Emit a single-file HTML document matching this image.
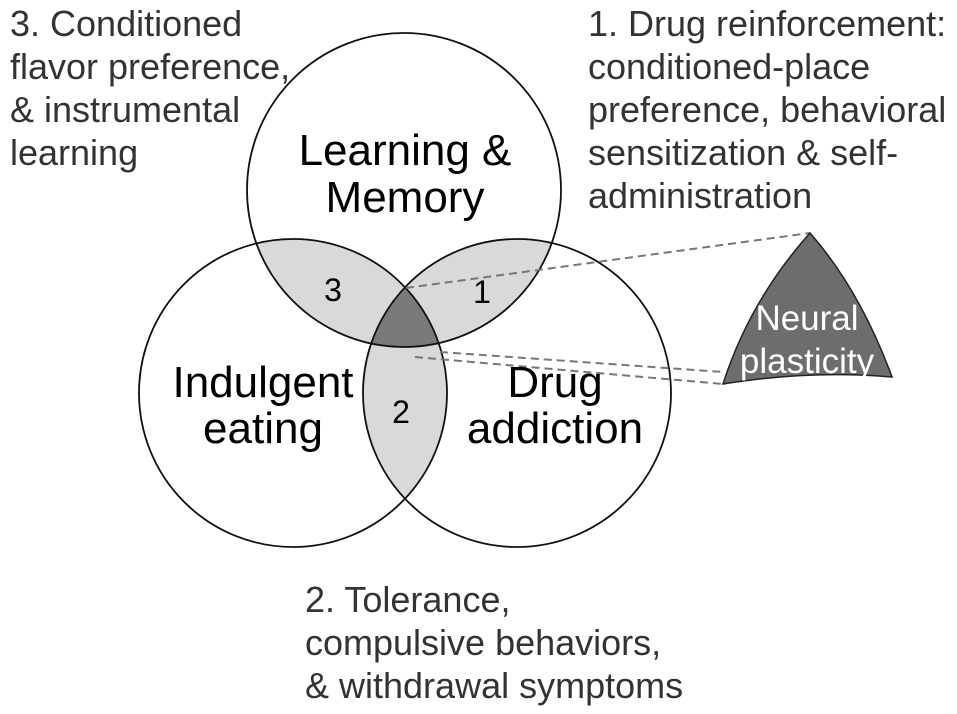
<!DOCTYPE html>
<html><head><meta charset="utf-8"><style>
html,body{margin:0;padding:0;background:#fff}
svg{display:block}
text{font-family:"Liberation Sans",Arial,sans-serif}
</style></head><body>
<svg width="957" height="714" viewBox="0 0 957 714" xmlns="http://www.w3.org/2000/svg">
<defs>
<clipPath id="cT"><circle cx="404" cy="190" r="157"/></clipPath>
<clipPath id="cL"><circle cx="293" cy="393" r="154"/></clipPath>
<clipPath id="cR"><circle cx="517" cy="393" r="154"/></clipPath>
</defs>
<rect width="957" height="714" fill="#fff"/>
<g fill="#d9d9d9">
<circle cx="293" cy="393" r="154" clip-path="url(#cT)"/>
<circle cx="517" cy="393" r="154" clip-path="url(#cT)"/>
<circle cx="517" cy="393" r="154" clip-path="url(#cL)"/>
</g>
<g clip-path="url(#cT)"><circle cx="517" cy="393" r="154" fill="#7a7a7a" clip-path="url(#cL)"/></g>
<g fill="none" stroke="#111" stroke-width="1.8">
<circle cx="404" cy="190" r="157"/>
<circle cx="293" cy="393" r="154"/>
<circle cx="517" cy="393" r="154"/>
</g>
<g stroke="#777" stroke-width="2" stroke-dasharray="8,5" fill="none">
<line x1="406" y1="288" x2="810" y2="233"/>
<line x1="440" y1="352" x2="723" y2="372"/>
<line x1="415" y1="357" x2="723" y2="384"/>
</g>
<path d="M810 233 Q750 300 723 384 Q810 370 892 377 Q860 290 810 233 Z" fill="#6d6d6d" stroke="#222" stroke-width="1.5"/>
<text x="807" y="330" font-size="35" fill="#fff" text-anchor="middle">Neural</text>
<text x="807" y="373" font-size="35" fill="#fff" text-anchor="middle">plasticity</text>
<g font-size="44" fill="#000" text-anchor="middle">
<text x="405" y="165">Learning &amp;</text>
<text x="405" y="212">Memory</text>
<text x="263" y="397">Indulgent</text>
<text x="263" y="443">eating</text>
<text x="555" y="397">Drug</text>
<text x="555" y="443">addiction</text>
</g>
<g font-size="32" fill="#000" text-anchor="middle">
<text x="333" y="301">3</text>
<text x="482" y="303">1</text>
<text x="401" y="423">2</text>
</g>
<g font-size="36" fill="#333">
<text x="10" y="36">3. Conditioned</text>
<text x="10" y="79">flavor preference,</text>
<text x="10" y="122">&amp; instrumental</text>
<text x="10" y="165">learning</text>
<text x="588" y="36">1. Drug reinforcement:</text>
<text x="588" y="79">conditioned-place</text>
<text x="588" y="122">preference, behavioral</text>
<text x="588" y="165">sensitization &amp; self-</text>
<text x="588" y="208">administration</text>
<text x="305" y="612">2. Tolerance,</text>
<text x="305" y="655">compulsive behaviors,</text>
<text x="305" y="698">&amp; withdrawal symptoms</text>
</g>
</svg>
</body></html>
